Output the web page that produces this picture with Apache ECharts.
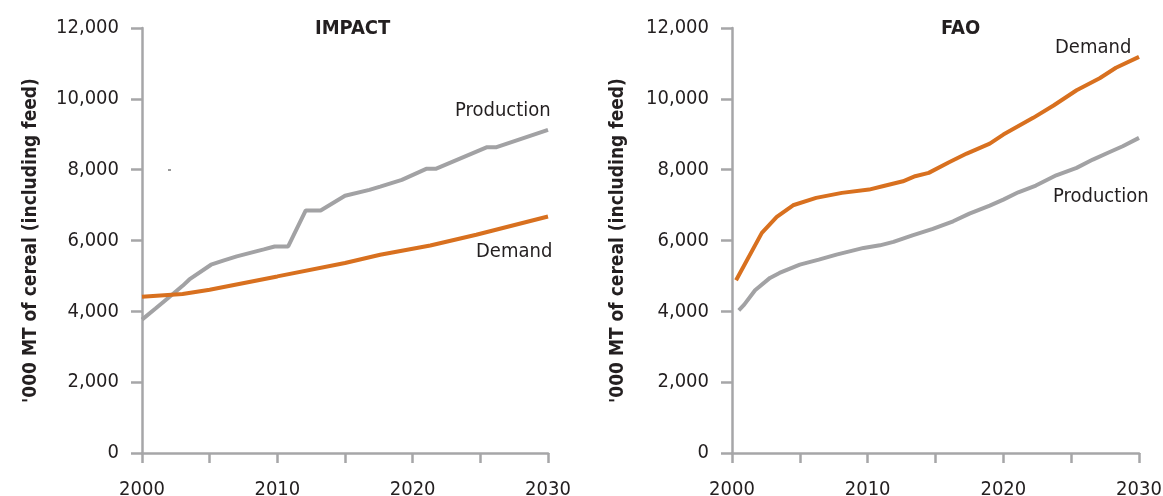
<!DOCTYPE html>
<html>
<head>
<meta charset="utf-8">
<style>
html,body{margin:0;padding:0;background:#fff;}
#c{width:1163px;height:496px;}
</style>
<script src="https://cdn.jsdelivr.net/npm/echarts@6/dist/echarts.min.js"></script>
</head>
<body>
<div id="c"></div>
<script>
// ---- Data ----
const impactProdYears = [2000, 2001, 2002, 2003, 2003.5, 2005.1, 2006, 2007, 2008, 2009, 2009.8, 2010.8, 2012.1, 2013.2, 2015, 2016.8, 2017.6, 2019.2, 2021.0, 2021.7, 2025.5, 2026.2, 2030];
const impactProdValues = [3765, 4080, 4400, 4720, 4900, 5316, 5430, 5550, 5650, 5750, 5832, 5832, 6848, 6848, 7262, 7430, 7523, 7713, 8023, 8023, 8635, 8635, 9123];
const impactDemYears = [2000, 2003, 2005, 2010, 2015, 2017.6, 2021.3, 2024.7, 2030];
const impactDemValues = [4413, 4490, 4611, 4986, 5364, 5598, 5860, 6162, 6678];

const faoDemYears = [2000.3, 2002.2, 2003.3, 2004.5, 2006.2, 2008.1, 2010.1, 2011.1, 2012.6, 2013.5, 2014.5, 2016, 2017.3, 2019, 2020, 2022.2, 2023.7, 2025.4, 2027.1, 2028.3, 2030];
const faoDemValues = [4876, 6215, 6667, 6995, 7203, 7345, 7438, 7532, 7672, 7815, 7910, 8210, 8455, 8737, 8991, 9463, 9811, 10243, 10582, 10876, 11186];
const faoProdYears = [2000.5, 2000.9, 2001.7, 2002.8, 2003.5, 2005, 2006.4, 2007.7, 2009.7, 2010.9, 2011.9, 2013.3, 2014.8, 2016.3, 2017.5, 2019, 2020, 2021.1, 2022.4, 2023.9, 2025.4, 2026.6, 2027.8, 2028.8, 2030];
const faoProdValues = [4028, 4189, 4593, 4944, 5085, 5319, 5460, 5602, 5791, 5864, 5960, 6147, 6328, 6542, 6760, 6986, 7155, 7361, 7551, 7842, 8051, 8285, 8491, 8661, 8898];

const yTicks = [0, 2000, 4000, 6000, 8000, 10000, 12000];
const xLabelYears = [2000, 2010, 2020, 2030];
const panelTitles = ['IMPACT', 'FAO'];
const yAxisTitle = "'000 MT of cereal (including feed)";

// ---- Styles ----
const FONT = "'Liberation Sans Narrow', 'DejaVu Sans Condensed', 'Liberation Sans', sans-serif";
const AXIS = '#a6a6a8';
const TXT = '#231f20';
const ORANGE = '#d8701f';
const GREY = '#a2a2a4';

function zip(xs, ys){ return xs.map((x,i)=>[x, ys[i]]); }
function fmt(v){ return String(v).replace(/\B(?=(\d{3})+(?!\d))/g, ','); }

function xAxis(gi){
  return {
    type:'value', gridIndex:gi, min:2000, max:2030, interval:5,
    axisLine:{show:true, lineStyle:{color:AXIS, width:2.5}},
    axisTick:{show:true, length:10, lineStyle:{color:AXIS, width:2.5}},
    splitLine:{show:false},
    axisLabel:{margin:27, color:TXT, fontFamily:FONT, fontSize:20,
      formatter:v => xLabelYears.indexOf(v) >= 0 ? String(v) : ''}
  };
}
function yAxis(gi, gap){
  return {
    type:'value', gridIndex:gi, min:yTicks[0], max:yTicks[yTicks.length-1], interval:2000,
    name:yAxisTitle, nameLocation:'middle', nameGap:gap, nameRotate:90,
    nameTextStyle:{color:TXT, fontFamily:FONT, fontSize:19, fontWeight:'bold'},
    axisLine:{show:true, lineStyle:{color:AXIS, width:2.5}},
    axisTick:{show:true, length:11, lineStyle:{color:AXIS, width:2.5}},
    splitLine:{show:false},
    axisLabel:{margin:23, color:TXT, fontFamily:FONT, fontSize:20, formatter:fmt}
  };
}
function line(gi, data, color){
  return {type:'line', xAxisIndex:gi, yAxisIndex:gi, data:data, showSymbol:false, symbol:'none',
    smooth:false, lineStyle:{color:color, width:4}, z:3, animation:false};
}

const chart = echarts.init(document.getElementById('c'));
chart.setOption({
  animation:false,
  grid:[
    {left:142, right:615, top:28, bottom:43, containLabel:false, outerBoundsMode:'none'},
    {left:732, right:24, top:28, bottom:43, containLabel:false, outerBoundsMode:'none'}
  ],
  xAxis:[xAxis(0), xAxis(1)],
  yAxis:[yAxis(0, 101), yAxis(1, 104)],
  series:[
    line(0, zip(impactProdYears, impactProdValues), GREY),
    line(0, zip(impactDemYears, impactDemValues), ORANGE),
    line(1, zip(faoProdYears, faoProdValues), GREY),
    line(1, zip(faoDemYears, faoDemValues), ORANGE)
  ],
  graphic:[
    {type:'text', left:315, top:19, style:{text:panelTitles[0], fill:TXT, font:'bold 20px ' + FONT}},
    {type:'text', left:941, top:19, style:{text:panelTitles[1], fill:TXT, font:'bold 20px ' + FONT}},
    {type:'text', left:455, top:101, style:{text:'Production', fill:TXT, font:'20px ' + FONT}},
    {type:'text', left:476, top:242, style:{text:'Demand', fill:TXT, font:'20px ' + FONT}},
    {type:'text', left:1055, top:38, style:{text:'Demand', fill:TXT, font:'20px ' + FONT}},
    {type:'text', left:1053, top:187, style:{text:'Production', fill:TXT, font:'20px ' + FONT}},
    {type:'line', shape:{x1:168, y1:170, x2:171, y2:170}, style:{stroke:'#333', lineWidth:1}}
  ]
});
</script>
</body>
</html>
